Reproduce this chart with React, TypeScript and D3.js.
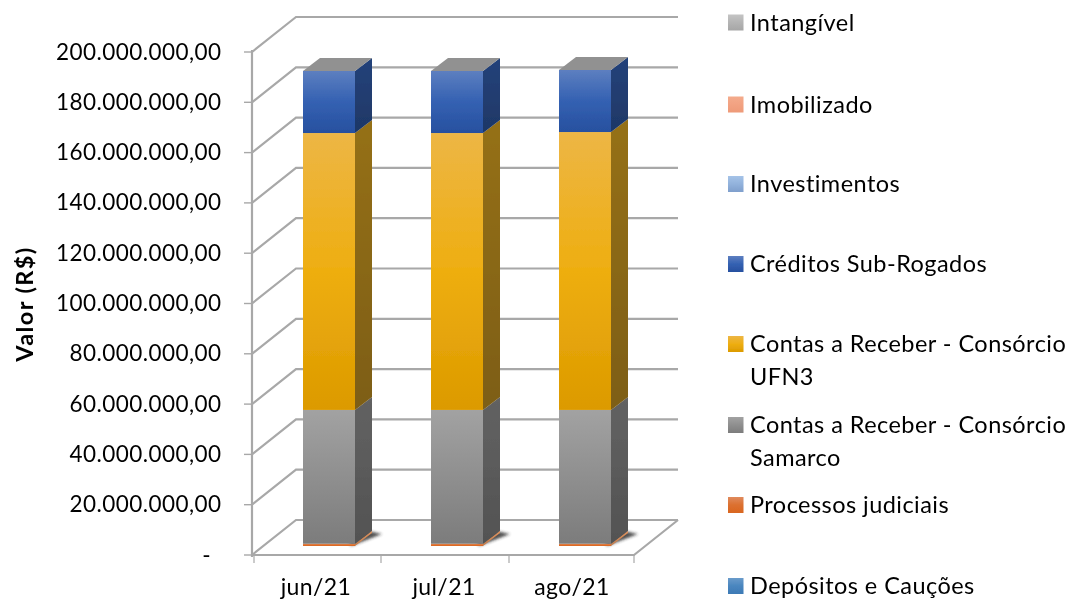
import React from "react";
import * as d3 from "d3";

const months = ["jun/21", "jul/21", "ago/21"];
const depositos = [0, 0, 0];
const processos = [0.9, 0.9, 0.9];
const samarco = [53.2, 53.2, 53.2];
const ufn3 = [110.1, 110.1, 110.5];
const subRogados = [24.7, 24.7, 24.7];
const investimentos = [0, 0, 0];
const imobilizado = [0, 0, 0];
const intangivel = [0, 0, 0];
const yTicks = [0, 20, 40, 60, 80, 100, 120, 140, 160, 180, 200];
const yTickLabels = ["-", "20.000.000,00", "40.000.000,00", "60.000.000,00", "80.000.000,00", "100.000.000,00", "120.000.000,00", "140.000.000,00", "160.000.000,00", "180.000.000,00", "200.000.000,00"];
const seriesKeys = ["depositos", "processos", "samarco", "ufn3", "subRogados", "investimentos", "imobilizado", "intangivel"];
const seriesValues: Record<string, number[]> = { depositos, processos, samarco, ufn3, subRogados, investimentos, imobilizado, intangivel };
const seriesColors: Record<string, [string, string, string, string]> = {
  depositos: ["#6a9bcb", "#4a86bf", "#3c7ab5", "#2a5a88"],
  processos: ["#e08a5c", "#dc7030", "#d9661f", "#e0935f"],
  samarco: ["#a2a2a2", "#8f8f8f", "#7c7c7c", "#626262"],
  ufn3: ["#edb645", "#eeae10", "#dc9a00", "#957019"],
  subRogados: ["#5d7fc0", "#3461b2", "#27509f", "#24427a"],
  investimentos: ["#a5c3e8", "#92b2dc", "#7f9fcc", "#607ba3"],
  imobilizado: ["#f4ab8c", "#f2a282", "#ee9a78", "#b0705a"],
  intangivel: ["#c4c4c4", "#b4b4b4", "#a6a6a6", "#808080"],
};
const legendRows = [
  { key: "intangivel", lines: ["Intangível"], y: 22.5 },
  { key: "imobilizado", lines: ["Imobilizado"], y: 104.5 },
  { key: "investimentos", lines: ["Investimentos"], y: 184 },
  { key: "subRogados", lines: ["Créditos Sub-Rogados"], y: 264 },
  { key: "ufn3", lines: ["Contas a Receber - Consórcio", "UFN3"], y: 344 },
  { key: "samarco", lines: ["Contas a Receber - Consórcio", "Samarco"], y: 425 },
  { key: "processos", lines: ["Processos judiciais"], y: 505 },
  { key: "depositos", lines: ["Depósitos e Cauções"], y: 586 },
];

const W = 1070, H = 602;
const x0 = 252, x1 = 634, y0 = 555, yTop = 52;
const depthX = 44, depthY = -35;
const barW = 52, barDX = 17, barDY = -13;
const barOffX = 11, barOffY = -9;
const grid = "#a8a8a8";
const FONT = "Lato, Carlito, sans-serif";

export default function App() {
  const y = d3.scaleLinear().domain([0, 200]).range([y0, yTop]);
  const x = d3.scaleBand().domain(months).range([x0, x1 + 2]).padding(0);
  const rows = months.map((m, i) => {
    const r: Record<string, number | string> = { m };
    seriesKeys.forEach((k) => (r[k] = seriesValues[k][i]));
    return r;
  });
  const stacked = d3.stack<any>().keys(seriesKeys)(rows);
  const line = d3.line();
  const rowsTotal = (i: number) => seriesKeys.reduce((acc, k) => acc + seriesValues[k][i], 0);
  return (
    <svg width={W} height={H} style={{ position: "absolute", left: 0, top: 0, background: "#fff" }}>
      <defs>
        <filter id="soft" x="-5%" y="-5%" width="110%" height="110%"><feGaussianBlur stdDeviation="0.6" /></filter>
        <filter id="softer"><feGaussianBlur stdDeviation="0.4" /></filter>
        <filter id="shadow" x="-30%" y="-80%" width="160%" height="260%"><feGaussianBlur stdDeviation="1.6" /></filter>
        {seriesKeys.map((k) => (
          <linearGradient key={k} id={`f-${k}`} x1="0" x2="0" y1="0" y2="1">
            <stop offset="0" stopColor={seriesColors[k][0]} />
            <stop offset="0.5" stopColor={seriesColors[k][1]} />
            <stop offset="1" stopColor={seriesColors[k][2]} />
          </linearGradient>
        ))}
        <linearGradient id="sideDark" x1="0" x2="0" y1="0" y2="1">
          <stop offset="0" stopColor="#000" stopOpacity="0" />
          <stop offset="1" stopColor="#000" stopOpacity="0.16" />
        </linearGradient>
      </defs>
      <g filter="url(#soft)">
        <g fill="none" stroke={grid} strokeWidth={2.2}>
          {yTicks.map((t) => (
            <path key={t} d={line([[x0, y(t)], [x0 + depthX, y(t) + depthY], [x1 + depthX, y(t) + depthY]]) || ""} />
          ))}
          <path d={line([[x0, y0], [x1, y0], [x1 + depthX, y0 + depthY]]) || ""} />
          <path d={line([[x0, yTop - 2], [x0, y0 + 2]]) || ""} />
          {yTicks.map((t) => <path key={`t${t}`} d={line([[x0 - 8, y(t)], [x0, y(t)]]) || ""} strokeWidth={1.4} />)}
          {[0, 1, 2, 3].map((i) => {
            const tx = i === 0 ? x0 + 2 : i === 3 ? x1 : x0 + 2 + (x.step() * i) - 1;
            return <path key={`c${i}`} d={line([[tx, y0], [tx, y0 + 8]]) || ""} strokeWidth={1.2} />;
          })}
        </g>
        {months.map((m, i) => {
          const bx = (x(m) as number) + x.bandwidth() / 2 - barW / 2 + barOffX + 2;
          const base = y0 + barOffY;
          const yb = (v: number) => base - (y0 - y(v));
          const top = yb(rowsTotal(i));
          return (
            <g key={m}>
              <path d={line([[bx + barW - 4, base], [bx + barW + barDX + 10, base + barDY + 1], [bx + barW + barDX - 4, base + barDY - 2], [bx + barW - 8, base - 8]]) + "Z"} fill="#222" opacity={0.8} filter="url(#shadow)" />
              {stacked.map((s) => {
                const k = s.key;
                const [a, b] = s[i];
                if (b - a <= 0) return null;
                const ya = yb(a), yc = yb(b);
                const side = line([[bx + barW, ya], [bx + barW + barDX, ya + barDY], [bx + barW + barDX, yc + barDY], [bx + barW, yc]]) + "Z";
                return (
                  <g key={k}>
                    <path d={side} fill={seriesColors[k][3]} />
                    <path d={side} fill="url(#sideDark)" />
                    <rect x={bx} y={yc} width={barW} height={ya - yc} fill={`url(#f-${k})`} />
                  </g>
                );
              })}
              <path d={line([[bx, top], [bx + barDX, top + barDY], [bx + barW + barDX, top + barDY], [bx + barW, top]]) + "Z"} fill="#919191" />
            </g>
          );
        })}
      </g>
      <g filter="url(#softer)" fill="#000" fontFamily={FONT}>
        {legendRows.map((r) => (
          <g key={r.key}>
            <rect x={728} y={r.y - 8} width={15.5} height={16} fill={`url(#f-${r.key})`} />
            {r.lines.map((l, j) => (
              <text key={l} x={750} y={r.y + 8 + j * 32.5} fontSize={23.5} letterSpacing={0.45}>{l}</text>
            ))}
          </g>
        ))}
        {yTicks.map((t, i) => (
          <text key={t} x={t === 0 ? 211 : 221.5} y={y(t) + 7.5} textAnchor="end" fontSize={22.5} letterSpacing={0.45}>{yTickLabels[i]}</text>
        ))}
        {months.map((m, i) => (
          <text key={m} x={[316, 444, 572][i]} y={595} textAnchor="middle" fontSize={23} letterSpacing={0.4}>{m}</text>
        ))}
        <text transform="translate(33,304) rotate(-90)" textAnchor="middle" fontSize={23.5} fontWeight={700} letterSpacing={1.4}>Valor (R$)</text>
      </g>
    </svg>
  );
}
